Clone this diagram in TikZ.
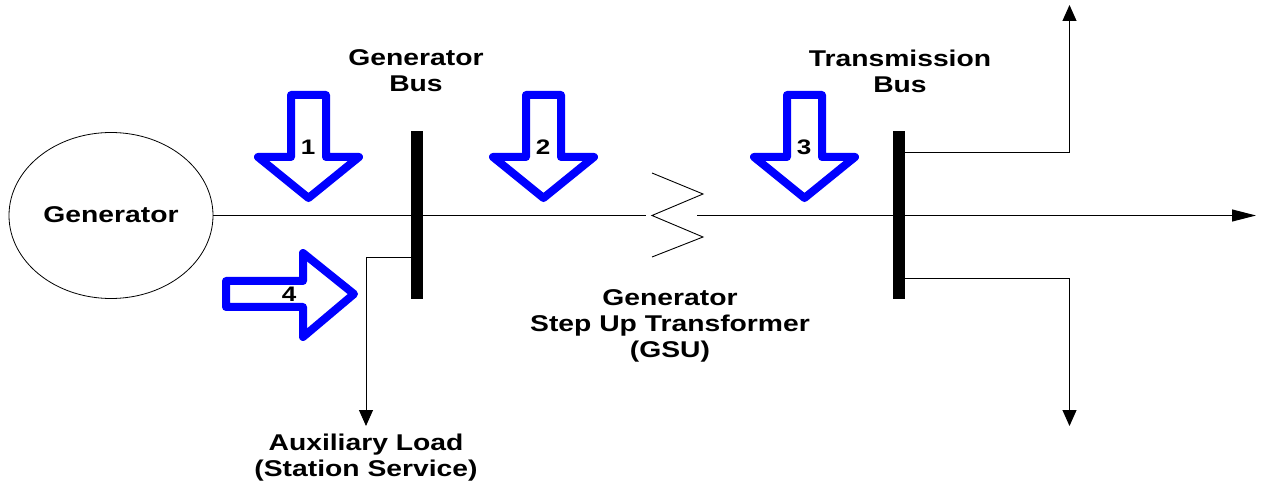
\documentclass[tikz,border=0pt]{standalone}
\usepackage{fontspec}
\setmainfont{Liberation Sans}[BoldFeatures={FakeStretch=1.24}]
\usetikzlibrary{arrows.meta,shapes.geometric}
\tikzset{
  x=1pt,y=-1pt,
  lbl/.style={font=\fontsize{22.8}{26}\selectfont\bfseries,align=center,inner sep=0pt},
  num/.style={font=\fontsize{21}{24}\selectfont\bfseries,inner sep=0pt},
  busbar/.style={fill=black,draw=none,minimum width=12pt,minimum height=168pt,inner sep=0pt},
  wire/.style={line width=1pt,black},
  tipwire/.style={wire,-{Triangle[length=16pt,width=14pt]}},
  bigarrow/.style={draw=blue!100!black,line width=8pt,line join=round,fill=white},
}
\newcommand{\downarrowshape}[2]{%
  \draw[bigarrow] (#1-17.5,95) -- (#1+17.5,95) -- (#1+17.5,#2) -- (#1+50.5,#2) -- (#1,198)
    -- (#1-50.5,#2) -- (#1-17.5,#2) -- cycle;}
\begin{document}
\begin{tikzpicture}
\useasboundingbox (0,0) rectangle (1264,486);
\node[draw,line width=0.8pt,ellipse,minimum width=204pt,minimum height=166pt,inner sep=0pt] (gen) at (111,215.5) {};
\node[lbl] (gent) at (111,215) {Generator};
\node[busbar] (bus1) at (417,215.5) {};
\node[busbar] (bus2) at (899,215.5) {};
\coordinate (xl) at (646,215.5);
\coordinate (xr) at (697,215.5);
\coordinate (xa) at (652,173);
\coordinate (xb) at (703,194);
\coordinate (xc) at (652,215.5);
\coordinate (xd) at (703,237);
\coordinate (xe) at (652,257);
\coordinate (out) at (1256,215.5);
\coordinate (up) at (1069.5,5);
\coordinate (dn) at (1069.5,426);
\coordinate (aux) at (366,426);
\coordinate (s1) at (899,153);
\coordinate (s2) at (899,279);
\coordinate (s3) at (417,258);
\draw[wire] (gen.east) -- (bus1.center);
\draw[wire] (bus1.center) -- (xl);
\draw[line width=0.9pt] (xa) -- (xb) -- (xc) -- (xd) -- (xe);
\draw[wire,-{Triangle[length=24pt,width=12pt]}] (xr) -- (out);
\draw[tipwire] (s1) -- (up |- s1) -- (up);
\draw[tipwire] (s2) -- (dn |- s2) -- (dn);
\draw[tipwire] (s3) -- (aux |- s3) -- (aux);
\node[busbar] at (bus1) {};
\node[busbar] at (bus2) {};
\downarrowshape{308.5}{157}
\downarrowshape{543.5}{157}
\downarrowshape{804.5}{157}
\draw[bigarrow] (226,281) -- (303,281) -- (303,253) -- (354,294) -- (303,337) -- (303,307) -- (226,307) -- cycle;
\node[num] (n1) at (308,147) {1};
\node[num] (n2) at (543,147) {2};
\node[num] (n3) at (804,147) {3};
\node[num] (n4) at (289,294) {4};
\node[lbl] (t1) at (416,71) {Generator\\Bus};
\node[lbl] (t2) at (900,71) {Transmission\\Bus};
\node[lbl] (t3) at (670,326) {Generator\\Step Up Transformer\\(GSU)};
\node[lbl] (t4) at (366,458) {Auxiliary Load\\(Station Service)};
\end{tikzpicture}
\end{document}
